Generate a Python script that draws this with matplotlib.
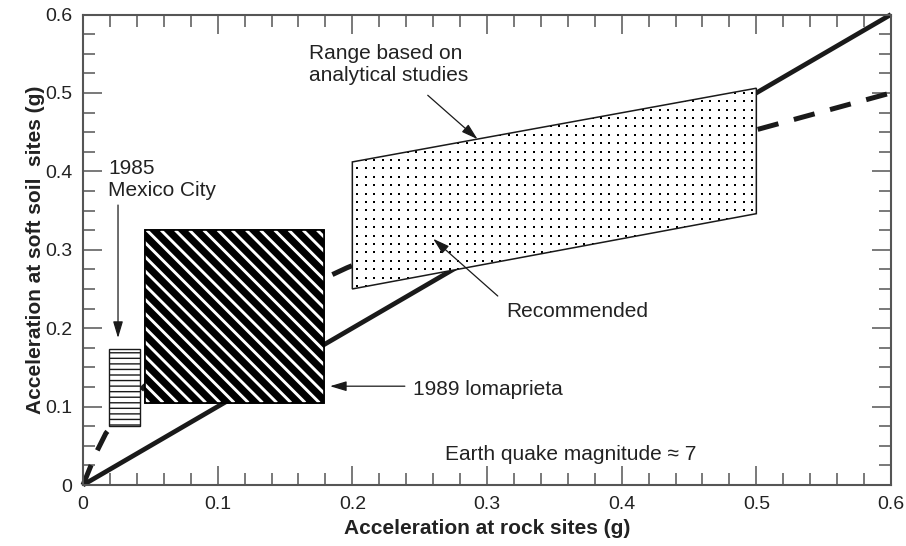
import numpy as np
import matplotlib
matplotlib.use("Agg")
import matplotlib.pyplot as plt
from matplotlib.patches import Rectangle, Polygon
from matplotlib.ticker import MultipleLocator, FixedLocator, FixedFormatter

plt.rcParams['font.family'] = ['Liberation Sans', 'DejaVu Sans']
plt.rcParams['hatch.linewidth'] = 1.0

# ---------------- data ----------------
x_ticks = [0.0, 0.1, 0.2, 0.3, 0.4, 0.5, 0.6]
x_tick_labels = ['0', '0.1', '0.2', '0.3', '0.4', '0.5', '0.6']
y_ticks = [0.0, 0.1, 0.2, 0.3, 0.4, 0.5, 0.6]
y_tick_labels = ['0', '0.1', '0.2', '0.3', '0.4', '0.5', '0.6']

# rock = soil line
equal_x = [0.0, 0.6]
equal_y = [0.0, 0.6]

# recommended (dashed) curve
recommended_x = [0.0, 0.010, 0.017, 0.045, 0.100, 0.181, 0.196, 0.300, 0.400, 0.500, 0.600]
recommended_y = [0.0, 0.042, 0.066, 0.125, 0.200, 0.265, 0.277, 0.350, 0.405, 0.453, 0.500]

# 1985 Mexico City box
mexico_x = [0.019, 0.042]
mexico_y = [0.075, 0.173]

# 1989 Loma Prieta box
loma_x = [0.046, 0.179]
loma_y = [0.105, 0.325]

# range based on analytical studies (parallelogram)
analytical_x = [0.2, 0.5]
analytical_top = [0.412, 0.506]
analytical_bottom = [0.250, 0.346]

# labels and arrows
range_label = "Range based on\nanalytical studies"
range_label_xy = (0.1675, 0.562)
range_arrow = [(0.256, 0.497), (0.293, 0.441)]

mexico_label = "1985\nMexico City"
mexico_label_xy = (0.0186, 0.416)
mexico_arrow = [(0.026, 0.357), (0.026, 0.1875)]

loma_label = "1989 lomaprieta"
loma_label_xy = (0.245, 0.1148)
loma_arrow = [(0.239, 0.126), (0.1834, 0.126)]

recommended_label = "Recommended"
recommended_label_xy = (0.314, 0.2143)
recommended_arrow = [(0.308, 0.241), (0.260, 0.314)]

magnitude_label = "Earth quake magnitude \u2248 7"
magnitude_label_xy = (0.2688, 0.0319)

x_label = "Acceleration at rock sites (g)"
y_label = "Acceleration at soft soil  sites (g)"

# ---------------- figure ----------------
W, H = 906, 546
fig = plt.figure(figsize=(W / 100, H / 100), dpi=100)
left_px, right_px, top_px, bottom_px = 83, 891, 14.5, 485
ax = fig.add_axes([left_px / W, 1 - bottom_px / H,
                   (right_px - left_px) / W, (bottom_px - top_px) / H])
ax.set_xlim(0, 0.6)
ax.set_ylim(0, 0.6)

ink = '#1a1a1a'
axis_col = '#555555'
txt_col = '#222222'
fs_ann = 15

# lines
ax.plot(equal_x, equal_y, color=ink, lw=3.4, solid_capstyle='butt', zorder=2, clip_on=False)
ax.plot(recommended_x, recommended_y, color=ink, lw=3.6, dashes=(4.3, 3.2),
        dash_capstyle='butt', zorder=2, clip_on=False)

# Mexico City box (horizontal lines)
mex = Rectangle((mexico_x[0], mexico_y[0]), mexico_x[1] - mexico_x[0], mexico_y[1] - mexico_y[0],
                facecolor='white', edgecolor=ink, hatch='---', lw=1.0, zorder=3)
ax.add_patch(mex)

# Loma Prieta box (black with white diagonal stripes)
loma = Rectangle((loma_x[0], loma_y[0]), loma_x[1] - loma_x[0], loma_y[1] - loma_y[0],
                 facecolor='black', edgecolor='black', lw=1.2, zorder=3)
ax.add_patch(loma)
T = ax.transData
Ti = T.inverted()
(x0p, y0p) = T.transform((loma_x[0], loma_y[0]))
(x1p, y1p) = T.transform((loma_x[1], loma_y[1]))
period = 14.2
for c in np.arange(x0p + y0p + 4, x1p + y1p + period, period):
    p = Ti.transform([(c - y1p, y1p), (c - y0p, y0p)])
    ln, = ax.plot(p[:, 0], p[:, 1], color='white', lw=2.1, solid_capstyle='butt', zorder=3.5)
    ln.set_clip_path(loma)
loma_edge = Rectangle((loma_x[0], loma_y[0]), loma_x[1] - loma_x[0], loma_y[1] - loma_y[0],
                      facecolor='none', edgecolor='black', lw=1.2, zorder=3.6)
ax.add_patch(loma_edge)

# analytical range (stippled parallelogram)
poly_pts = [(analytical_x[0], analytical_bottom[0]), (analytical_x[1], analytical_bottom[1]),
            (analytical_x[1], analytical_top[1]), (analytical_x[0], analytical_top[0])]
poly = Polygon(poly_pts, closed=True, facecolor='white', edgecolor='none', zorder=3)
ax.add_patch(poly)
pp = T.transform(poly_pts)
step = 8.4
gx = np.arange(pp[:, 0].min() + 5, pp[:, 0].max(), step)
gy = np.arange(pp[:, 1].min() + 3, pp[:, 1].max(), step)
GX, GY = np.meshgrid(gx, gy)
gd = Ti.transform(np.column_stack([GX.ravel(), GY.ravel()]))
sc = ax.scatter(gd[:, 0], gd[:, 1], marker='s', s=3.3, c='black', linewidths=0, zorder=3.5)
sc.set_clip_path(poly)
poly_edge = Polygon(poly_pts, closed=True, facecolor='none', edgecolor=ink, lw=1.1, zorder=3.6)
ax.add_patch(poly_edge)

# annotations
def arrow(pts):
    ax.annotate('', xy=pts[1], xytext=pts[0],
                arrowprops=dict(arrowstyle='-|>,head_length=1.0,head_width=0.3',
                                color=ink, lw=0.9, shrinkA=0, shrinkB=0, mutation_scale=10),
                zorder=5)

ax.text(*range_label_xy, range_label, fontsize=fs_ann, color=txt_col, ha='left', va='top', zorder=5)
arrow(range_arrow)
ax.text(*mexico_label_xy, mexico_label, fontsize=fs_ann, color=txt_col, ha='left', va='top', zorder=5)
arrow(mexico_arrow)
ax.text(*loma_label_xy, loma_label, fontsize=fs_ann, color=txt_col, ha='left', va='baseline', zorder=5)
arrow(loma_arrow)
ax.text(*recommended_label_xy, recommended_label, fontsize=fs_ann, color=txt_col, ha='left',
        va='baseline', zorder=5)
arrow(recommended_arrow)
ax.text(*magnitude_label_xy, magnitude_label, fontsize=fs_ann, color=txt_col, ha='left',
        va='baseline', zorder=5)

# axes styling
ax.xaxis.set_major_locator(FixedLocator(x_ticks))
ax.xaxis.set_major_formatter(FixedFormatter(x_tick_labels))
ax.yaxis.set_major_locator(FixedLocator(y_ticks))
ax.yaxis.set_major_formatter(FixedFormatter(y_tick_labels))
ax.xaxis.set_minor_locator(MultipleLocator(0.02))
ax.yaxis.set_minor_locator(MultipleLocator(0.025))
ax.tick_params(which='both', direction='in', top=True, right=True, color=axis_col, width=1.1,
               labelcolor=txt_col, labelsize=14)
ax.tick_params(which='major', length=13.7)
ax.tick_params(which='minor', length=8.6)
ax.tick_params(axis='x', which='major', pad=8)
ax.tick_params(axis='y', which='major', pad=7.5)
for s in ax.spines.values():
    s.set_color(axis_col)
    s.set_linewidth(1.5)

ax.set_xlabel(x_label, fontsize=15, fontweight='bold', color=txt_col, labelpad=4)
ax.set_ylabel(y_label, fontsize=15, fontweight='bold', color=txt_col, labelpad=0.5)

fig.savefig('out.png', dpi=100)
